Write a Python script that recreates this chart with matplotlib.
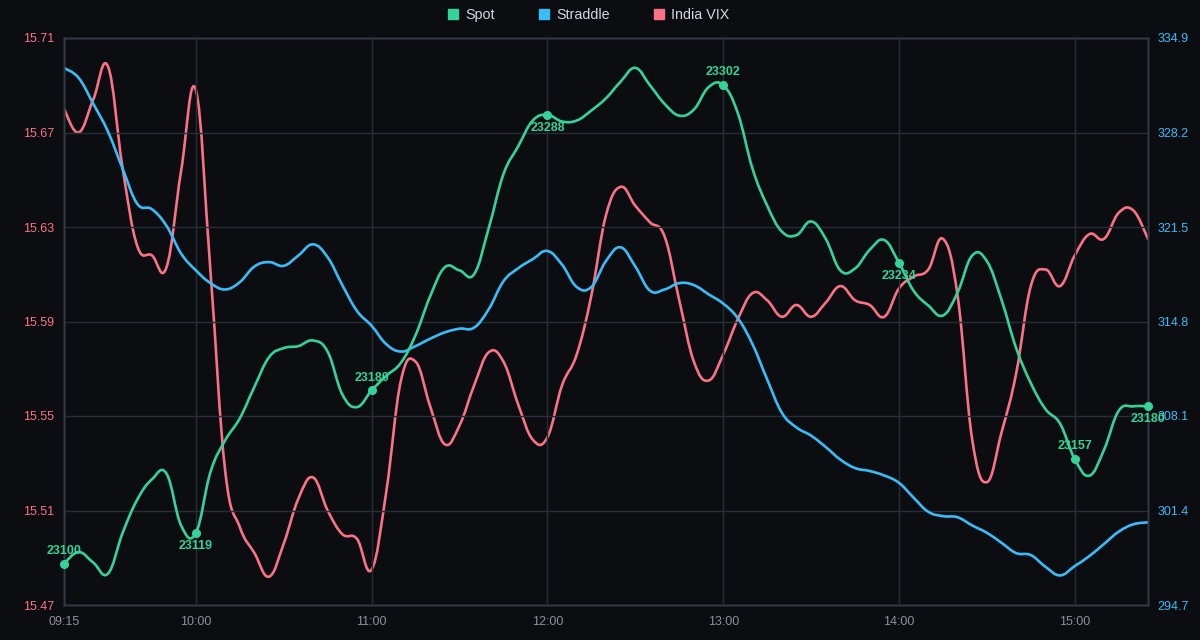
import numpy as np
import matplotlib.pyplot as plt
from matplotlib.path import Path
from matplotlib.patches import PathPatch
from matplotlib.lines import Line2D

plt.rcParams['font.family'] = ['Liberation Sans', 'DejaVu Sans']

# minutes after 09:15, one reading every 5 minutes
minutes = np.arange(0, 371, 5)

spot = [23108.7, 23113.4, 23109.1, 23104.6, 23121.2, 23134.8, 23143.1, 23145.4, 23124.2, 23121.2,
        23146.1, 23159.0, 23168.0, 23180.9, 23193.0, 23196.7, 23197.5, 23199.8, 23195.2,
        23177.8, 23172.6, 23179.4, 23185.4, 23190.7, 23202.0, 23217.9, 23229.7, 23228.4, 23226.9,
        23245.8, 23267.7, 23279.0, 23289.6, 23291.9, 23289.2, 23289.6, 23293.7, 23298.7,
        23305.5, 23311.1, 23304.0, 23296.4, 23291.6, 23294.1, 23303.2, 23304.0, 23292.6, 23270.0,
        23254.9, 23244.3, 23242.8, 23248.4, 23241.3, 23228.4, 23229.2, 23236.8,
        23240.8, 23231.5, 23220.1, 23214.1, 23210.0, 23219.4, 23234.5, 23232.2, 23216.4, 23196.7,
        23182.4, 23171.8, 23165.8, 23151.4, 23144.6, 23155.2, 23171.1, 23172.9, 23172.9]

straddle = [332.78, 332.07, 330.23, 328.27, 325.64, 323.15, 322.76, 321.58, 319.61, 318.43,
            317.52, 317.07, 317.59, 318.70, 319.01, 318.75, 319.48, 320.27, 319.35,
            317.38, 315.55, 314.50, 313.19, 312.67, 313.06, 313.58, 314.03, 314.29, 314.37,
            315.68, 317.65, 318.57, 319.22, 319.80, 318.83, 317.25, 317.25, 319.09,
            320.06, 318.70, 316.99, 317.07, 317.52, 317.38, 316.73, 316.07, 315.03, 313.19,
            310.70, 308.34, 307.29, 306.71, 305.90, 305.01, 304.41, 304.20,
            303.88, 303.36, 302.31, 301.31, 301.00, 300.92, 300.34, 299.82, 299.11, 298.38,
            298.24, 297.41, 296.80, 297.46, 298.17, 299.03, 299.90, 300.42, 300.56]

vix = [15.680, 15.670, 15.684, 15.698, 15.655, 15.622, 15.618, 15.613, 15.654, 15.688,
       15.611, 15.527, 15.503, 15.492, 15.482, 15.496, 15.515, 15.524, 15.510,
       15.500, 15.498, 15.485, 15.518, 15.565, 15.573, 15.554, 15.538, 15.546, 15.563,
       15.577, 15.573, 15.555, 15.540, 15.541, 15.563, 15.576, 15.601, 15.635,
       15.647, 15.639, 15.632, 15.626, 15.599, 15.573, 15.565, 15.576, 15.591, 15.602,
       15.599, 15.592, 15.597, 15.592, 15.598, 15.605, 15.599, 15.597,
       15.592, 15.604, 15.609, 15.612, 15.625, 15.601, 15.540, 15.522, 15.543, 15.568,
       15.605, 15.612, 15.605, 15.618, 15.627, 15.625, 15.636, 15.637, 15.625]

tick_minutes = [0, 45, 105, 165, 225, 285, 345]
tick_labels = ['09:15', '10:00', '11:00', '12:00', '13:00', '14:00', '15:00']

mark_minutes = [0, 45, 105, 165, 225, 285, 345, 370]
mark_text = ['23100', '23119', '23180', '23288', '23302', '23234', '23157', '23180']

vix_ticks = [15.47, 15.51, 15.55, 15.59, 15.63, 15.67, 15.71]
straddle_ticks = [294.7, 301.4, 308.1, 314.8, 321.5, 328.2, 334.9]

GREEN = '#34d399'
BLUE = '#38bdf8'
RED = '#fb7185'
BG = '#0b0d11'
GRID = '#272c37'


def smooth_path(x, y, k=0.2):
    # cardinal spline through the points, drawn as cubic bezier segments
    x = np.asarray(x, float)
    y = np.asarray(y, float)
    n = len(x)
    verts = [(x[0], y[0])]
    codes = [Path.MOVETO]
    for i in range(n - 1):
        i0 = max(i - 1, 0)
        i3 = min(i + 2, n - 1)
        c1 = (x[i] + k * (x[i + 1] - x[i0]), y[i] + k * (y[i + 1] - y[i0]))
        c2 = (x[i + 1] - k * (x[i3] - x[i]), y[i + 1] - k * (y[i3] - y[i]))
        verts += [c1, c2, (x[i + 1], y[i + 1])]
        codes += [Path.CURVE4] * 3
    return Path(verts, codes)


fig = plt.figure(figsize=(12, 6.4), dpi=100, facecolor=BG)
ax = fig.add_axes([64 / 1200, 35 / 640, 1084 / 1200, 567 / 640])
ax.set_facecolor(BG)
ax2 = ax.twinx()
ax3 = ax.twinx()

ax.set_xlim(0, 370)
ax.set_ylim(15.47, 15.71)
ax2.set_ylim(294.7, 334.9)
ax3.set_ylim(23091.8, 23323.3)

ax.add_patch(PathPatch(smooth_path(minutes, vix), fill=False, edgecolor=RED, lw=1.9,
                       capstyle='round', joinstyle='round'))
ax2.add_patch(PathPatch(smooth_path(minutes, straddle), fill=False, edgecolor=BLUE, lw=1.9,
                        capstyle='round', joinstyle='round'))
ax3.add_patch(PathPatch(smooth_path(minutes, spot), fill=False, edgecolor=GREEN, lw=1.9,
                        capstyle='round', joinstyle='round'))

spot_arr = np.array(spot)
above = [True, False, True, False, True, False, True, False]
for m, txt, up in zip(mark_minutes, mark_text, above):
    v = spot_arr[list(minutes).index(m)]
    ax3.plot([m], [v], 'o', color=GREEN, ms=5.5, zorder=5, clip_on=False)
    ax3.annotate(txt, (m, v), xytext=(0, 5 if up else -5), textcoords='offset points',
                 ha='center', va='bottom' if up else 'top', color=GREEN,
                 fontsize=9, fontweight='bold', zorder=6, annotation_clip=False)

ax.set_xticks(tick_minutes)
ax.set_xticklabels(tick_labels)
ax.set_yticks(vix_ticks)
ax.set_yticklabels([f'{v:.2f}' for v in vix_ticks])
ax2.set_yticks(straddle_ticks)
ax2.set_yticklabels([f'{v:.1f}' for v in straddle_ticks])
ax3.set_yticks([])

ax.grid(True, color=GRID, lw=1)
ax.tick_params(axis='x', length=0, pad=8, colors='#8b919c', labelsize=9)
ax.tick_params(axis='y', length=0, pad=7, colors=RED, labelsize=9)
ax2.tick_params(axis='y', length=0, pad=7, colors=BLUE, labelsize=9)

for a in (ax, ax2, ax3):
    for s in a.spines.values():
        s.set_color('#333947')
        s.set_linewidth(1)

handles = [Line2D([], [], marker='s', ls='', color=c, ms=7.5) for c in (GREEN, BLUE, RED)]
fig.legend(handles, ['Spot', 'Straddle', 'India VIX'], loc='center', bbox_to_anchor=(0.49, 0.976),
           ncol=3, frameon=False, fontsize=10.3, labelcolor='#d4d7dd', handletextpad=0.4,
           columnspacing=3.0, handlelength=0.9)

fig.savefig('out.png', dpi=100, facecolor=BG)
